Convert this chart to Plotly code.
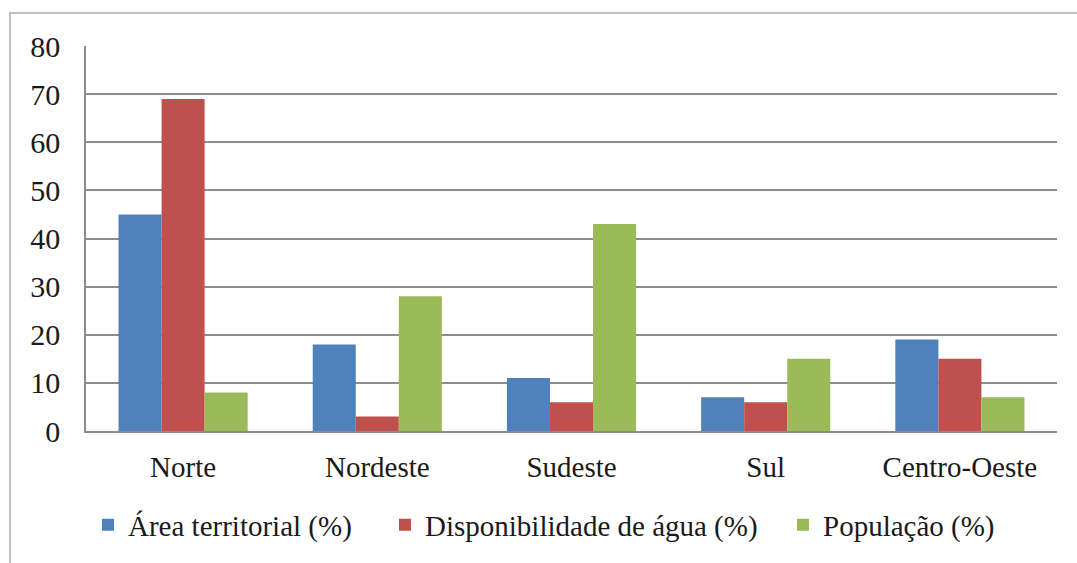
import plotly.graph_objects as go

categories = ["Norte", "Nordeste", "Sudeste", "Sul", "Centro-Oeste"]
area = [45, 18, 11, 7, 19]
agua = [69, 3, 6, 6, 15]
populacao = [8, 28, 43, 15, 7]
y_ticks = [0, 10, 20, 30, 40, 50, 60, 70, 80]

L, R, T, B = 86, 20, 46, 132
W, H = 1077, 563
pw, ph = W - L - R, H - T - B

def px(x):
    return (x - L) / pw

def py(y):
    return (H - B - y) / ph

FAM = "Liberation Serif, Times New Roman, serif"
font = dict(family=FAM, size=30, color="#1a1a1a")
legfont = dict(family=FAM, size=29, color="#1a1a1a")

fig = go.Figure()
fig.add_bar(x=categories, y=area, name="Área territorial (%)", marker_color="#4F81BD",
            marker_line_width=0, legend="legend")
fig.add_bar(x=categories, y=agua, name="Disponibilidade de água (%)", marker_color="#C0504D",
            marker_line_width=0, legend="legend2")
fig.add_bar(x=categories, y=populacao, name="População (%)", marker_color="#9BBB59",
            marker_line_width=0, legend="legend3")

def leg(xpix):
    return dict(orientation="h", x=px(xpix), xanchor="left", y=py(525), yanchor="middle",
                font=legfont, bgcolor="rgba(0,0,0,0)")

fig.update_layout(
    width=W, height=H,
    margin=dict(l=L, r=R, t=T, b=B),
    paper_bgcolor="white", plot_bgcolor="white",
    barmode="group", bargap=0.335, bargroupgap=0,
    font=font,
    showlegend=True,
    legend=leg(88), legend2=leg(385), legend3=leg(783),
    shapes=[dict(type="rect", xref="paper", yref="paper",
                 x0=px(10), x1=px(1090), y0=py(13), y1=py(580),
                 line=dict(color="#c0c0c0", width=2), layer="below")],
)
fig.update_yaxes(range=[0, 80], tickvals=y_ticks, showgrid=True, gridcolor="#8c8c8c", gridwidth=1.5,
                 showline=True, linecolor="#8c8c8c", linewidth=1.5, mirror=False,
                 tickfont=dict(family=FAM, size=30, color="#1a1a1a"),
                 ticks="", ticklabelstandoff=18, zeroline=False, fixedrange=True)
fig.update_xaxes(showline=True, linecolor="#8c8c8c", linewidth=1.5, ticks="",
                 tickfont=dict(family=FAM, size=29, color="#1a1a1a"),
                 ticklabelstandoff=9, fixedrange=True)

fig.write_html("out.html", config={"displayModeBar": False},
               post_script="document.body.style.margin='0';")
